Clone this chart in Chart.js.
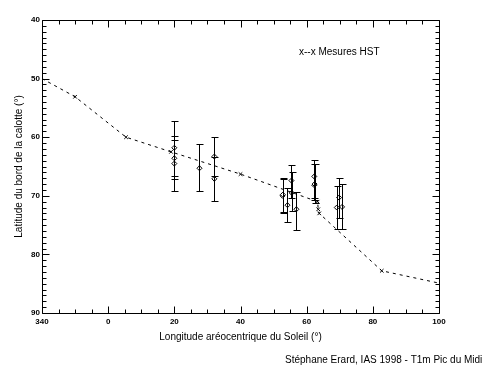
<!DOCTYPE html>
<html><head><meta charset="utf-8">
<script src="https://cdn.jsdelivr.net/npm/chart.js@4/dist/chart.umd.min.js"></script>
<style>html,body{margin:0;padding:0;background:#fff}#wrap{width:488px;height:367px;position:relative}</style>
</head><body><div id="wrap"><canvas id="c" width="488" height="367"></canvas></div>
<script>
// Tick values
const xTicks = [-20, 0, 20, 40, 60, 80, 100];
const yTicks = [40, 50, 60, 70, 80, 90];
// HST measurements (x--x dashed line)
const hstLon = [-20, -10, 5.4, 19, 40, 63.3, 63.5, 63.8, 82.7, 100];
const hstLat = [50, 53.1, 60, 62.5, 66.3, 71.0, 72.3, 73.0, 82.8, 84.9];
const hstMarker = [0, 1, 1, 1, 1, 1, 1, 1, 1, 0];
// Ground-based observations with error bars
const obsLon  = [20, 20, 20, 27.6, 32.1, 32.1, 52.7, 52.8, 54.2, 55.4, 55.5, 56.9, 62.3, 62.3, 62.4, 69.1, 69.8, 70.7];
const obsLat  = [61.8, 63.6, 64.5, 65.3, 63.3, 67.1, 70.0, 69.8, 71.6, 67.4, 69.5, 72.3, 66.7, 68.2, 68.0, 72.0, 70.3, 71.9];
const obsLow  = [57.2, 59.8, 60.4, 61.2, 59.9, 63.3, 67.1, 67.0, 68.6, 64.8, 66.0, 69.3, 63.9, 64.5, 64.6, 68.4, 66.9, 68.0];
const obsHigh = [66.6, 67.2, 69.2, 69.2, 66.7, 70.9, 72.9, 72.7, 74.5, 70.4, 72.6, 75.8, 70.3, 70.7, 71.3, 75.7, 73.8, 75.7];
// Texts
const xTitle = 'Longitude aréocentrique du Soleil (°)';
const yTitle = 'Latitude du bord de la calotte (°)';
const legendText = 'x--x Mesures HST';
const creditText = 'Stéphane Erard, IAS 1998 - T1m Pic du Midi';

const FONT = 'Liberation Sans';

const framePlugin = {
  id: 'frame',
  afterDatasetsDraw(chart) {
    const ctx = chart.ctx, xs = chart.scales.x, ys = chart.scales.y;
    ctx.save();
    ctx.strokeStyle = '#000';
    ctx.lineWidth = 1;
    ctx.beginPath();
    for (let i = 0; i < obsLon.length; i++) {
      const px = Math.round(xs.getPixelForValue(obsLon[i])) + 0.5;
      const y1 = Math.round(ys.getPixelForValue(obsLow[i])) + 0.5;
      const y2 = Math.round(ys.getPixelForValue(obsHigh[i])) + 0.5;
      ctx.moveTo(px, y1); ctx.lineTo(px, y2);
      ctx.moveTo(px - 3, y1); ctx.lineTo(px + 4, y1);
      ctx.moveTo(px - 3, y2); ctx.lineTo(px + 4, y2);
    }
    ctx.stroke();
    ctx.restore();
  },
  afterDraw(chart) {
    const ctx = chart.ctx, a = chart.chartArea, xs = chart.scales.x, ys = chart.scales.y;
    ctx.save();
    ctx.strokeStyle = '#000';
    ctx.lineWidth = 1;
    const L = Math.round(a.left) + 0.5, R = Math.round(a.right) + 0.5;
    const T = Math.round(a.top) + 0.5, B = Math.round(a.bottom) + 0.5;
    ctx.beginPath();
    ctx.rect(L, T, R - L, B - T);
    for (let v = xs.min; v <= xs.max + 1e-9; v += 5) {
      const p = Math.round(xs.getPixelForValue(v)) + 0.5;
      const len = (Math.round(v) % 20 === 0) ? 7 : 4;
      ctx.moveTo(p, B); ctx.lineTo(p, B - len);
      ctx.moveTo(p, T); ctx.lineTo(p, T + len);
    }
    for (let v = ys.min; v <= ys.max + 1e-9; v += 1) {
      const p = Math.round(ys.getPixelForValue(v)) + 0.5;
      const len = (Math.round(v) % 10 === 0) ? 7 : 4;
      ctx.moveTo(L, p); ctx.lineTo(L + len, p);
      ctx.moveTo(R, p); ctx.lineTo(R - len, p);
    }
    ctx.stroke();
    ctx.fillStyle = '#000';
    ctx.font = '10px "' + FONT + '"';
    ctx.textBaseline = 'middle';
    ctx.textAlign = 'left';
    ctx.fillText(legendText, 299, 52);
    ctx.fillText(creditText, 285, 360);
    ctx.restore();
  }
};

new Chart(document.getElementById('c'), {
  type: 'scatter',
  data: {
    datasets: [
      {
        type: 'line',
        data: hstLon.map((x, i) => ({ x: x, y: hstLat[i] })),
        borderColor: '#000', borderWidth: 1, borderDash: [3, 4],
        pointStyle: 'crossRot', pointRadius: hstMarker.map(m => m ? 2.5 : 0),
        pointBorderColor: '#000', pointBorderWidth: 1,
        fill: false, tension: 0
      },
      {
        data: obsLon.map((x, i) => ({ x: x, y: obsLat[i] })),
        pointStyle: 'rectRot', pointRadius: 2.5,
        pointBorderColor: '#000', pointBackgroundColor: '#fff', pointBorderWidth: 1,
        showLine: false
      }
    ]
  },
  options: {
    responsive: false, animation: false, devicePixelRatio: 1,
    layout: { padding: { top: 20, right: 49, left: 0, bottom: 0 } },
    plugins: { legend: { display: false }, tooltip: { enabled: false } },
    scales: {
      x: {
        type: 'linear', min: -20, max: 100,
        afterFit: s => { s.height = 54; },
        afterBuildTicks: s => { s.ticks = xTicks.map(v => ({ value: v })); },
        ticks: {
          callback: v => (v < 0 ? String(v + 360) : String(v)),
          font: { family: FONT, size: 8, weight: 'bold' }, color: '#000',
          padding: 4, maxRotation: 0, autoSkip: false
        },
        grid: { display: false, drawTicks: false },
        border: { display: false },
        title: { display: true, text: xTitle, color: '#000',
          font: { family: FONT, size: 10 }, padding: { top: 0, bottom: 24 } }
      },
      y: {
        type: 'linear', min: 40, max: 90, reverse: true,
        afterFit: s => { s.width = 42; },
        afterBuildTicks: s => { s.ticks = yTicks.map(v => ({ value: v })); },
        ticks: {
          font: { family: FONT, size: 8, weight: 'bold' }, color: '#000',
          padding: 2, autoSkip: false
        },
        grid: { display: false, drawTicks: false },
        border: { display: false },
        title: { display: true, text: yTitle, color: '#000',
          font: { family: FONT, size: 10 }, padding: { top: 13, bottom: 0 } }
      }
    }
  },
  plugins: [framePlugin]
});
</script>
</body></html>
